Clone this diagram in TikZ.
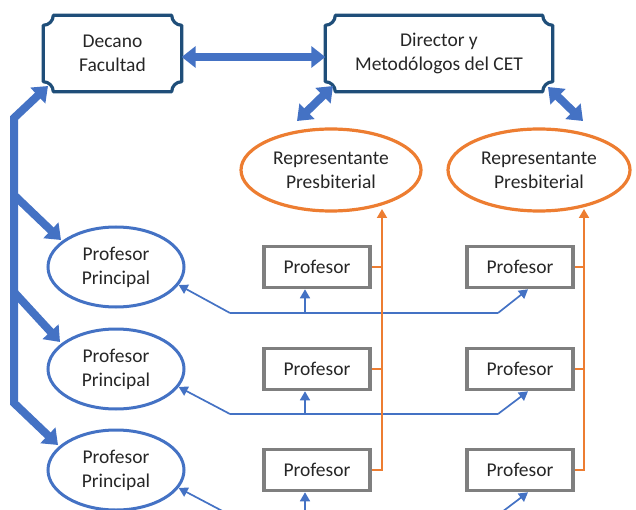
\documentclass[tikz,border=0pt]{standalone}
\usepackage{fontspec}
\setmainfont{Carlito}
\usetikzlibrary{arrows.meta,shapes.geometric,calc}
\definecolor{navy}{HTML}{1F4E79}
\definecolor{bblue}{HTML}{4472C4}
\definecolor{oorange}{HTML}{ED7D31}
\definecolor{bgray}{HTML}{7F7F7F}
\definecolor{txt}{HTML}{262626}
\newcommand\plaqueframe[1]{%
  \draw[plaqueline] ([xshift=10pt]#1.north west) -- ([xshift=-10pt]#1.north east)
    arc[start angle=180,end angle=270,radius=10pt] -- ([yshift=10pt]#1.south east)
    arc[start angle=90,end angle=180,radius=10pt] -- ([xshift=10pt]#1.south west)
    arc[start angle=0,end angle=90,radius=10pt] -- ([yshift=-10pt]#1.north west)
    arc[start angle=270,end angle=360,radius=10pt] -- cycle;}
\tikzset{
  plaqueline/.style={draw=navy,line width=3.2pt,line join=round},
  plaquenode/.style={inner sep=0pt,align=center,minimum height=76pt},
  repell/.style={ellipse,draw=oorange,line width=3.2pt,inner sep=0pt,align=center,minimum width=180pt,minimum height=82pt},
  profell/.style={ellipse,draw=bblue,line width=3pt,inner sep=0pt,align=center,minimum width=136pt,minimum height=80pt},
  profbox/.style={rectangle,draw=bgray,line width=3.6pt,inner sep=0pt,minimum width=106pt,minimum height=41pt},
  bigtip/.tip={Triangle[width=21pt,length=14pt]},
  smalltip/.tip={Triangle[width=10pt,length=9pt]},
  blockarrow/.style={draw=bblue,line width=8pt,line join=miter},
  thinarrow/.style={draw=bblue,line width=1.7pt,-smalltip},
  thinline/.style={draw=bblue,line width=1.7pt},
  oline/.style={draw=oorange,line width=1.9pt},
  oarrow/.style={draw=oorange,line width=1.9pt,-smalltip}
}
\begin{document}
\begin{tikzpicture}[x=1pt,y=-1pt,font=\fontsize{19.5}{24}\selectfont,text=txt]
\useasboundingbox (0,0) rectangle (636,510);
\clip (0,0) rectangle (636,510);

% top boxes
\node[plaquenode,minimum width=138pt] (dec) at (112.5,53.5) {Decano\\Facultad};
\node[plaquenode,minimum width=227pt] (dir) at (439,53.5) {Director y\\Metodólogos del CET};
\plaqueframe{dec}
\plaqueframe{dir}

% representatives
\node[repell] (rp1) at (331,170) {Representante\\Presbiterial};
\node[repell,minimum width=182pt] (rp2) at (539,170) {Representante\\Presbiterial};

% principal professors
\node[profell] (pp1) at (116,267) {Profesor\\Principal};
\node[profell] (pp2) at (116,369) {Profesor\\Principal};
\node[profell] (pp3) at (116,470) {Profesor\\Principal};

% professors
\node[profbox] (b11) at (317,267) {Profesor};
\node[profbox] (b21) at (520,267) {Profesor};
\node[profbox] (b12) at (317,369) {Profesor};
\node[profbox] (b22) at (520,369) {Profesor};
\node[profbox] (b13) at (317,470) {Profesor};
\node[profbox] (b23) at (520,470) {Profesor};

% block arrows
\draw[blockarrow,bigtip-bigtip] ([yshift=-3.5pt]dec.east) -- ([yshift=-3.5pt]dec.east -| dir.west);
\coordinate (dA) at (297,121);
\coordinate (dB) at (333,86);
\draw[blockarrow,bigtip-bigtip] (dA) -- (dB);
\coordinate (dC) at (548,87);
\coordinate (dD) at (583,121);
\draw[blockarrow,bigtip-bigtip] (dC) -- (dD);

% left bar
\coordinate (decTip) at (48,86);
\coordinate (barTop) at (14,118);
\coordinate (barBot) at (14,403);
\coordinate (pp3Tip) at (58,445);
\draw[blockarrow,bigtip-bigtip] (decTip) -- (barTop) -- (barBot) -- (pp3Tip);
\coordinate (br1) at (14,195);
\coordinate (pp1Tip) at (61,240);
\draw[blockarrow,-bigtip] (br1) -- (pp1Tip);
\coordinate (br2) at (14,292);
\coordinate (pp2Tip) at (60,342);
\draw[blockarrow,-bigtip] (br2) -- (pp2Tip);

% thin blue connectors
\foreach \r/\y in {1/313,2/414,3/515}{
  \coordinate (l\r) at (230,\y);
  \coordinate (m\r) at (305,\y);
  \coordinate (n\r) at (498,\y);
  \draw[thinarrow] (l\r) -- (pp\r.-16);
  \draw[thinline] (l\r) -- (n\r);
  \draw[thinarrow] (m\r) -- (m\r |- b1\r.south);
  \draw[thinarrow] (n\r) -- ([xshift=8pt]b2\r.south);
}

% orange connectors
\coordinate (ot1) at (382,209);
\coordinate (ot2) at (584,209);
\draw[oarrow] (b13.east) -| (ot1);
\draw[oline] (b11.east) -- (b11.east -| ot1);
\draw[oline] (b12.east) -- (b12.east -| ot1);
\draw[oarrow] (b23.east) -| (ot2);
\draw[oline] (b21.east) -- (b21.east -| ot2);
\draw[oline] (b22.east) -- (b22.east -| ot2);
\end{tikzpicture}
\end{document}
